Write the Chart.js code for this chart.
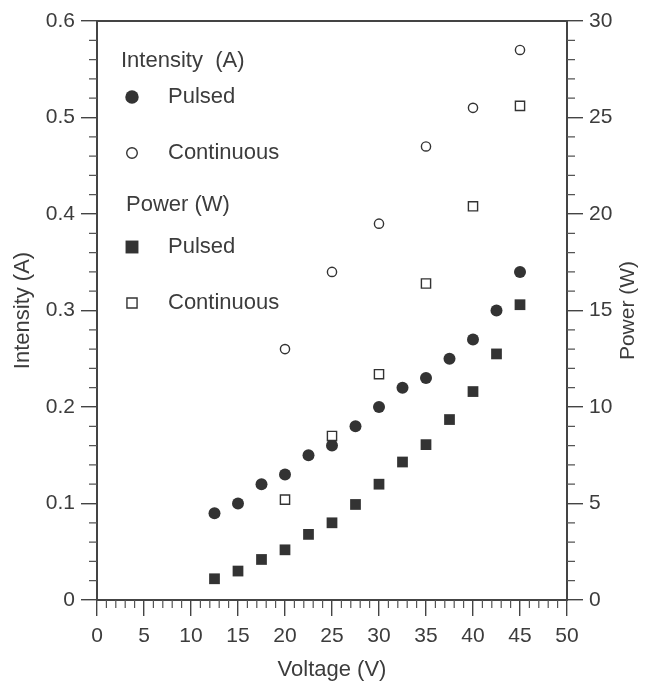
<!DOCTYPE html>
<html>
<head>
<meta charset="utf-8">
<script src="https://cdn.jsdelivr.net/npm/chart.js@4/dist/chart.umd.min.js"></script>
<style>
  html, body { margin: 0; padding: 0; background: #fff; }
  #wrap { width: 655px; height: 683px; }
</style>
</head>
<body>
<div id="wrap"><canvas id="voltage-chart" width="655" height="683"></canvas></div>
<script>
// values
const voltagePulsed = [12.5, 15, 17.5, 20, 22.5, 25, 27.5, 30, 32.5, 35, 37.5, 40, 42.5, 45];
const intensityPulsed = [0.09, 0.10, 0.12, 0.13, 0.15, 0.16, 0.18, 0.20, 0.22, 0.23, 0.25, 0.27, 0.30, 0.34];
const powerPulsed = [1.1, 1.5, 2.1, 2.6, 3.4, 4.0, 4.95, 6.0, 7.15, 8.05, 9.35, 10.8, 12.75, 15.3];

const voltageContinuous = [20, 25, 30, 35, 40, 45];
const intensityContinuous = [0.26, 0.34, 0.39, 0.47, 0.51, 0.57];
const powerContinuous = [5.2, 8.5, 11.7, 16.4, 20.4, 25.6];

const voltageTicks = [0, 50, 5];
const intensityTicks = [0, 0.6, 0.1];
const powerTicks = [0, 30, 5];

const ink = "#333333";
const textColor = "#3c3c3c";
const fontFamily = "'Liberation Sans', Arial, Helvetica, sans-serif";

function toPoints(xs, ys) {
  return xs.map((x, i) => ({ x: x, y: ys[i] }));
}

// legend rows: header text or dataset index
const legendRows = [
  { text: "Intensity  (A)", x: 121, y: 61 },
  { dataset: 2, text: "Pulsed", y: 97, scale: 1.12 },
  { dataset: 0, text: "Continuous", y: 153, scale: 1.15 },
  { text: "Power (W)", x: 126, y: 205 },
  { dataset: 3, text: "Pulsed", y: 247, scale: 1.2 },
  { dataset: 1, text: "Continuous", y: 303, scale: 1.1 },
];

const framePlugin = {
  id: "frame",
  afterDraw(chart) {
    const ctx = chart.ctx;
    const area = chart.chartArea;
    const x = chart.scales.x;
    const yL = chart.scales.y;
    const yR = chart.scales.y2;
    ctx.save();
    ctx.strokeStyle = "#444";
    ctx.lineWidth = 2;
    ctx.strokeRect(area.left, area.top, area.right - area.left, area.bottom - area.top);

    // minor ticks
    ctx.lineWidth = 1.2;
    ctx.strokeStyle = "#555";
    ctx.beginPath();
    for (let v = 0; v <= 50; v++) {
      if (v % 5 === 0) continue;
      const px = x.getPixelForValue(v);
      ctx.moveTo(px, area.bottom);
      ctx.lineTo(px, area.bottom + 8);
    }
    for (let i = 0; i <= 30; i++) {
      if (i % 5 === 0) continue;
      const pyL = yL.getPixelForValue(i * 0.02);
      ctx.moveTo(area.left, pyL);
      ctx.lineTo(area.left - 8, pyL);
      const pyR = yR.getPixelForValue(i);
      ctx.moveTo(area.right, pyR);
      ctx.lineTo(area.right + 8, pyR);
    }
    ctx.stroke();

    // right axis title reads bottom-to-top like the left one
    ctx.save();
    ctx.translate(628, (area.top + area.bottom) / 2);
    ctx.rotate(-Math.PI / 2);
    ctx.textAlign = "center";
    ctx.textBaseline = "middle";
    ctx.font = "21px " + fontFamily;
    ctx.fillStyle = textColor;
    ctx.fillText("Power (W)", 0, 0);
    ctx.restore();

    // grouped legend
    ctx.textBaseline = "middle";
    ctx.textAlign = "left";
    ctx.font = "22px " + fontFamily;
    ctx.fillStyle = textColor;
    legendRows.forEach((row) => {
      if (row.dataset === undefined) {
        ctx.fillText(row.text, row.x, row.y);
        return;
      }
      const ds = chart.data.datasets[row.dataset];
      ctx.fillStyle = ds.backgroundColor;
      ctx.strokeStyle = ds.borderColor;
      ctx.lineWidth = ds.borderWidth;
      Chart.helpers.drawPoint(ctx, {
        pointStyle: ds.pointStyle,
        radius: ds.pointRadius * row.scale,
        borderWidth: ds.borderWidth,
        rotation: 0,
      }, 132, row.y);
      ctx.fillStyle = textColor;
      ctx.fillText(row.text, 168, row.y);
    });
    ctx.restore();
  },
};

const axisTicks = (step) => ({
  stepSize: step,
  color: textColor,
  padding: 6,
  font: { size: 21, family: fontFamily },
});

const axisGrid = {
  drawOnChartArea: false,
  color: "#444",
  tickLength: 16,
  lineWidth: 1.4,
};

new Chart(document.querySelector("#voltage-chart").getContext("2d"), {
  type: "scatter",
  data: {
    datasets: [
      {
        label: "Intensity Continuous",
        data: toPoints(voltageContinuous, intensityContinuous),
        yAxisID: "y",
        pointStyle: "circle",
        pointRadius: 4.6,
        backgroundColor: "#ffffff",
        borderColor: ink,
        borderWidth: 1.4,
      },
      {
        label: "Power Continuous",
        data: toPoints(voltageContinuous, powerContinuous),
        yAxisID: "y2",
        pointStyle: "rect",
        pointRadius: 6.5,
        backgroundColor: "#ffffff",
        borderColor: ink,
        borderWidth: 1.4,
      },
      {
        label: "Intensity Pulsed",
        data: toPoints(voltagePulsed, intensityPulsed),
        yAxisID: "y",
        pointStyle: "circle",
        pointRadius: 6,
        backgroundColor: ink,
        borderColor: ink,
        borderWidth: 0,
      },
      {
        label: "Power Pulsed",
        data: toPoints(voltagePulsed, powerPulsed),
        yAxisID: "y2",
        pointStyle: "rect",
        pointRadius: 7.6,
        backgroundColor: ink,
        borderColor: ink,
        borderWidth: 0,
      },
    ],
  },
  options: {
    responsive: false,
    animation: false,
    layout: { padding: { top: 21, left: 0, right: 0, bottom: 0 } },
    plugins: {
      legend: { display: false },
      tooltip: { enabled: false },
    },
    elements: { point: { hoverRadius: 0 } },
    scales: {
      x: {
        type: "linear",
        position: "bottom",
        min: voltageTicks[0],
        max: voltageTicks[1],
        ticks: { ...axisTicks(voltageTicks[2]), padding: 8, maxRotation: 0 },
        grid: axisGrid,
        border: { color: "#444", width: 2 },
        title: {
          display: true,
          text: "Voltage (V)",
          color: textColor,
          font: { size: 22, family: fontFamily },
          padding: { top: 0, bottom: 0 },
        },
        afterFit(scale) { scale.height = 83; },
      },
      y: {
        position: "left",
        min: intensityTicks[0],
        max: intensityTicks[1],
        ticks: axisTicks(intensityTicks[2]),
        grid: axisGrid,
        border: { color: "#444", width: 2 },
        title: {
          display: true,
          text: "Intensity (A)",
          color: textColor,
          font: { size: 22, family: fontFamily },
          padding: { top: 10, bottom: 0 },
        },
        afterFit(scale) { scale.width = 97; },
      },
      y2: {
        position: "right",
        min: powerTicks[0],
        max: powerTicks[1],
        ticks: axisTicks(powerTicks[2]),
        grid: axisGrid,
        border: { color: "#444", width: 2 },
        afterFit(scale) { scale.width = 88; },
      },
    },
  },
  plugins: [framePlugin],
});
</script>
</body>
</html>
